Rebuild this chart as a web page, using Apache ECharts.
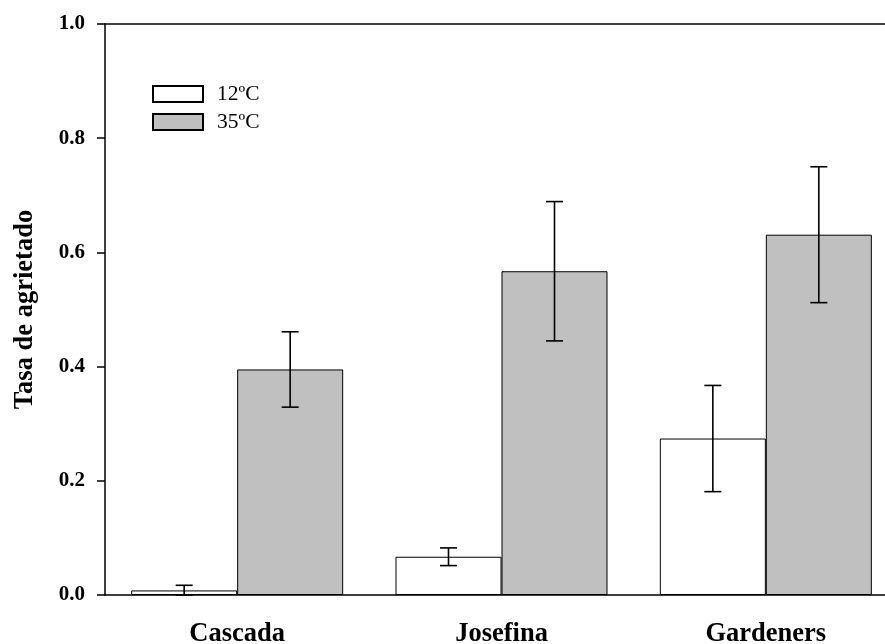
<!DOCTYPE html>
<html>
<head>
<meta charset="utf-8">
<script src="https://cdn.jsdelivr.net/npm/echarts@6/dist/echarts.min.js"></script>
<style>
  html, body { margin: 0; padding: 0; background: #fff; }
  #chart { width: 885px; height: 644px; }
</style>
</head>
<body>
<div id="chart"></div>
<script>
const sites = ['Cascada', 'Josefina', 'Gardeners'];
const cold = [0.008, 0.067, 0.274];
const coldErr = [0.009, 0.0155, 0.093];
const hot = [0.395, 0.567, 0.631];
const hotErr = [0.066, 0.122, 0.119];

const BAR_W = 106;
const font = '"Liberation Serif", "Times New Roman", serif';

function errData(means, errs) {
  return means.map((m, i) => [i, Math.max(0, m - errs[i]), m + errs[i]]);
}

function errSeries(name, means, errs, shift) {
  return {
    type: 'custom',
    name: name + ' err',
    z: 10,
    data: errData(means, errs),
    renderItem(params, api) {
      const lo = api.coord([api.value(0), api.value(1)]);
      const hi = api.coord([api.value(0), api.value(2)]);
      const x = lo[0] + shift;
      const cap = 8.5;
      const style = { stroke: '#000', lineWidth: 1.6 };
      return {
        type: 'group',
        children: [
          { type: 'line', shape: { x1: x, y1: lo[1], x2: x, y2: hi[1] }, style },
          { type: 'line', shape: { x1: x - cap, y1: hi[1], x2: x + cap, y2: hi[1] }, style },
          { type: 'line', shape: { x1: x - cap, y1: lo[1], x2: x + cap, y2: lo[1] }, style }
        ]
      };
    }
  };
}

const chart = echarts.init(document.getElementById('chart'));
chart.setOption({
  animation: false,
  backgroundColor: '#fff',
  textStyle: { fontFamily: font },
  grid: { left: 105, top: 24, width: 793, height: 571, outerBoundsMode: 'none', containLabel: false },
  legend: {
    orient: 'vertical',
    left: 152,
    top: 83,
    itemWidth: 50,
    itemHeight: 16,
    itemGap: 6,
    icon: 'rect',
    padding: 0,
    data: ['12ºC', '35ºC'],
    textStyle: { fontFamily: font, fontSize: 21.5, color: '#000', padding: [0, 0, 0, 9] }
  },
  xAxis: [{
    type: 'category',
    data: sites,
    position: 'bottom',
    axisLine: { lineStyle: { color: '#000', width: 1.5 } },
    axisTick: { alignWithLabel: true, length: 7, lineStyle: { color: '#000', width: 1.5 } },
    axisLabel: { color: '#000', fontFamily: font, fontWeight: 'bold', fontSize: 26.5, margin: 26 },
    splitLine: { show: false }
  }, {
    type: 'category',
    data: sites,
    position: 'top',
    axisLine: { lineStyle: { color: '#000', width: 1.5 } },
    axisTick: { show: false },
    axisLabel: { show: false }
  }],
  yAxis: {
    type: 'value',
    min: 0,
    max: 1,
    interval: 0.2,
    name: 'Tasa de agrietado',
    nameLocation: 'middle',
    nameGap: 66,
    nameTextStyle: { color: '#000', fontFamily: font, fontWeight: 'bold', fontSize: 26.5 },
    axisLine: { show: true, lineStyle: { color: '#000', width: 1.5 } },
    axisTick: { show: true, length: 8, lineStyle: { color: '#000', width: 1.5 } },
    axisLabel: {
      color: '#000', fontFamily: font, fontWeight: 'bold', fontSize: 21, margin: 20,
      formatter: v => v.toFixed(1)
    },
    splitLine: { show: false }
  },
  series: [{
    type: 'bar',
    name: '12ºC',
    data: cold,
    barWidth: BAR_W,
    barGap: '0%',
    itemStyle: { color: '#fff', borderColor: '#000', borderWidth: 1 }
  }, {
    type: 'bar',
    name: '35ºC',
    data: hot,
    barWidth: BAR_W,
    barGap: '0%',
    itemStyle: { color: '#c0c0c0', borderColor: '#000', borderWidth: 1 }
  },
  errSeries('12ºC', cold, coldErr, -BAR_W / 2),
  errSeries('35ºC', hot, hotErr, BAR_W / 2)
  ]
});
</script>
</body>
</html>
